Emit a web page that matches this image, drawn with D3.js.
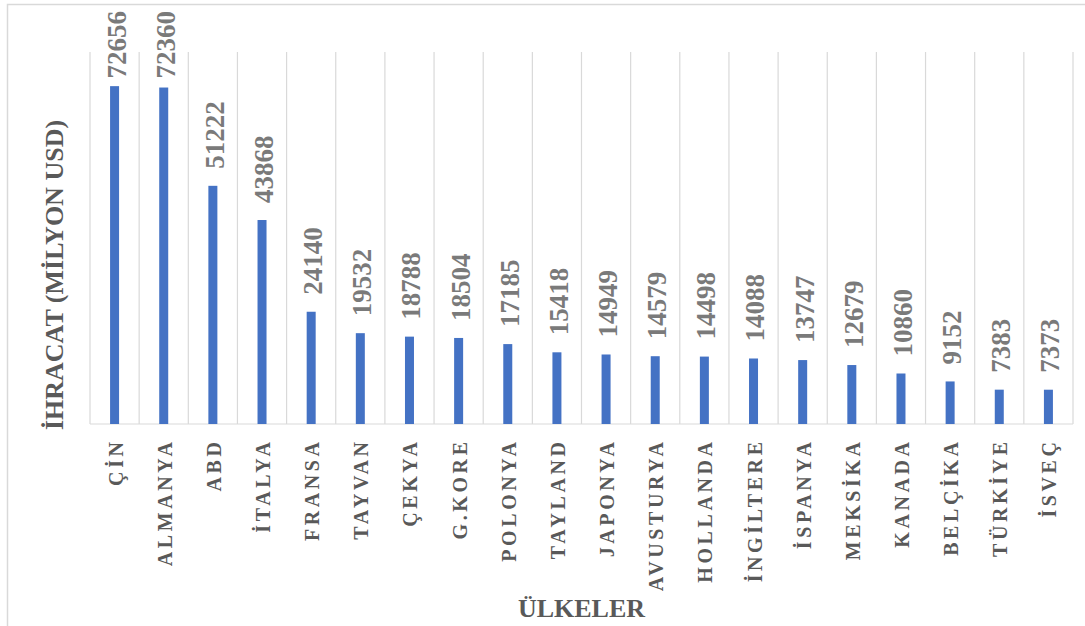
<!DOCTYPE html>
<html><head><meta charset="utf-8">
<script src="https://cdn.jsdelivr.net/npm/d3@7"></script>
<style>
html,body{margin:0;padding:0;background:#fff;}
svg{display:block;}
text{font-family:"Liberation Serif","Times New Roman",serif;font-weight:bold;}
</style></head>
<body>
<script>
const categories = ["ÇİN","ALMANYA","ABD","İTALYA","FRANSA","TAYVAN","ÇEKYA","G.KORE","POLONYA","TAYLAND","JAPONYA","AVUSTURYA","HOLLANDA","İNGİLTERE","İSPANYA","MEKSİKA","KANADA","BELÇİKA","TÜRKİYE","İSVEÇ"];
const values = [72656,72360,51222,43868,24140,19532,18788,18504,17185,15418,14949,14579,14498,14088,13747,12679,10860,9152,7383,7373];
const yTitle = "İHRACAT (MİLYON USD)";
const xTitle = "ÜLKELER";

const W = 1085, H = 626;
const plot = {left: 90, right: 1073, top: 52, bottom: 424};

const svg = d3.select("body").append("svg").attr("width", W).attr("height", H);

// chart border
svg.append("path").attr("d", `M7.5,${H+2} V4.5 H${W+2}`).attr("fill","none").attr("stroke","#d9d9d9").attr("stroke-width",1.5);

const x = d3.scaleBand().domain(categories).range([plot.left, plot.right]).paddingInner(0).paddingOuter(0);
const y = d3.scaleLinear().domain([0, 80000]).range([plot.bottom, plot.top]);

// vertical gridlines at category boundaries
const bounds = categories.map(c => x(c)).concat([plot.right]);
svg.append("g").selectAll("line").data(bounds).join("line")
  .attr("x1", d => d).attr("x2", d => d)
  .attr("y1", plot.top).attr("y2", plot.bottom)
  .attr("stroke", "#d9d9d9").attr("stroke-width", 1.2);

// baseline
svg.append("line").attr("x1", plot.left).attr("x2", plot.right)
  .attr("y1", plot.bottom).attr("y2", plot.bottom)
  .attr("stroke", "#d9d9d9").attr("stroke-width", 1.2);

const barW = 9;
svg.append("g").selectAll("rect").data(values).join("rect")
  .attr("x", (d,i) => x(categories[i]) + x.bandwidth()/2 - barW/2)
  .attr("width", barW)
  .attr("y", d => y(d))
  .attr("height", d => y(0) - y(d))
  .attr("fill", "#4472c4");

// value labels
const vl = svg.append("g").selectAll("text").data(values).join("text")
  .attr("font-size", 27)
  .attr("fill", "#7a7a7a")
  .attr("text-anchor", "start")
  .attr("dy", "0.35em")
  .text(d => d);
vl.each(function(d,i){
  const len = this.getComputedTextLength();
  let yy = y(d) - 17;
  if (yy - len < 11) yy = 11 + len;
  const cx = x(categories[i]) + x.bandwidth()/2 + 1.5;
  d3.select(this).attr("transform", `translate(${cx},${yy}) rotate(-90)`);
});

// category labels
const ls = 3.6;
svg.append("g").selectAll("text").data(categories).join("text")
  .attr("font-size", 20)
  .attr("fill", "#595959")
  .attr("letter-spacing", ls)
  .attr("text-anchor", "end")
  .attr("dy", "0.35em")
  .attr("transform", d => `translate(${x(d) + x.bandwidth()/2 + 1},${442 - ls}) rotate(-90)`)
  .text(d => d);

// axis titles
svg.append("text").attr("font-size", 26).attr("fill", "#595959")
  .attr("text-anchor", "middle")
  .attr("transform", `translate(63,275) rotate(-90)`)
  .text(yTitle);

svg.append("text").attr("font-size", 26).attr("fill", "#595959")
  .attr("text-anchor", "middle")
  .attr("x", (plot.left + plot.right)/2).attr("y", 617)
  .text(xTitle);
</script>
</body></html>
